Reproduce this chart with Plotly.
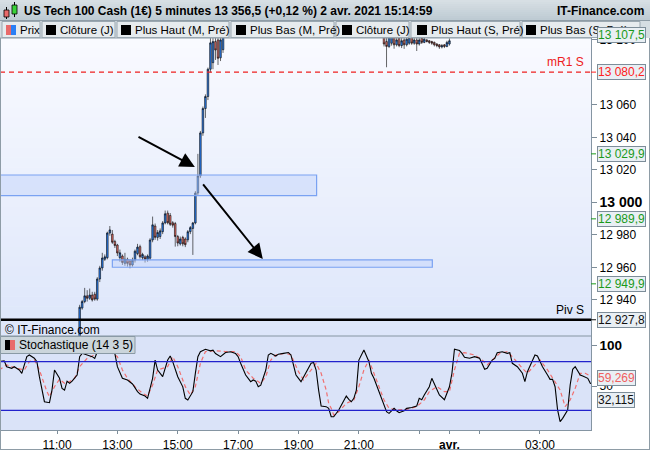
import plotly.graph_objects as go
import pandas as pd

# ---------------- candle data (5-minute bars) ----------------
seg1_start = "2021-03-31 11:45"
seg1_open = [12914, 12935, 12939, 12942.5, 12941, 12943, 12943.5, 12940.5, 12952.9, 12959.7,
             12965, 12966, 12981.2, 12980.5, 12976, 12973.8, 12966, 12967, 12962.5, 12965,
             12964, 12961.5, 12964.5, 12968.5, 12972.8, 12966, 12966.5, 12965, 12965.7, 12976.9,
             12985.5, 12978.5, 12979, 12982, 12987.4, 12993.4, 12992, 12987.5, 12987, 12979,
             12974.5, 12978.5, 12977.5, 12977, 12982, 12984, 12987.4, 13005.8, 13016.3, 13042.8,
             13057.8, 13065.2, 13082, 13086, 13099, 13100, 13089, 13094]
seg1_high = [12937, 12940, 12947.4, 12946, 12947, 12945, 12945, 12954, 12961, 12969,
             12968, 12982, 12985.5, 12983, 12977, 12974.5, 12971, 12968, 12969, 12966,
             12965, 12966, 12971, 12974.5, 12974, 12969, 12967.5, 12968, 12978, 12991.3,
             12987, 12983, 12984, 12988.5, 12995, 12995, 12993.5, 12988.5, 12988, 12980,
             12979, 12979.5, 12978.5, 12983, 12985.5, 12988, 13007, 13029.9, 13044, 13059,
             13066.5, 13083, 13104, 13104, 13103, 13104, 13104, 13106]
seg1_low = [12912, 12934, 12938, 12939, 12940, 12939, 12939.5, 12939.5, 12951, 12958,
            12964, 12965, 12979.5, 12974.5, 12972, 12967, 12963.5, 12961.5, 12961, 12960.5,
            12959.5, 12960.5, 12963, 12967.5, 12965.5, 12964.5, 12963, 12963.5, 12964.5, 12975.5,
            12977, 12976.5, 12977.5, 12980.5, 12986.5, 12986.5, 12985.5, 12984.5, 12972.8, 12973,
            12973.5, 12973, 12972.5, 12975.5, 12980.5, 12967.7, 12986.5, 13004.5, 13015, 13041,
            13052, 13063, 13080, 13082, 13087.7, 13084.6, 13087, 13092]
seg1_close = [12935.5, 12939, 12942.5, 12941, 12943, 12940, 12940.5, 12952.9, 12959.7, 12965.8,
              12966.5, 12981.2, 12983.1, 12975.5, 12973.5, 12968.9, 12969, 12963, 12965, 12962.5,
              12961.5, 12964.5, 12970, 12972.5, 12966.6, 12968, 12965, 12967, 12976.9, 12986.2,
              12978.5, 12981.5, 12982.5, 12987.4, 12993, 12987.5, 12986.5, 12986, 12979, 12975,
              12977.5, 12974.5, 12974, 12982, 12984.5, 12987.4, 13005.8, 13016.3, 13042.8, 13057.8,
              13065.2, 13082, 13098.2, 13099, 13093.8, 13088.7, 13100, 13104]

seg2_start = "2021-03-31 21:50"
seg2_open = [13104, 13099, 13096, 13098, 13102, 13097, 13101, 13096.5, 13100, 13097,
             13098, 13101.5, 13098, 13100, 13097.5, 13101, 13098.5, 13100, 13099.5, 13099,
             13098.5, 13097.5, 13097, 13095.7, 13097, 13096, 13097.5]
seg2_high = [13106, 13102, 13105, 13106, 13104, 13103, 13103, 13102, 13102, 13103,
             13104, 13103, 13102, 13101.5, 13102, 13103, 13102.5, 13100.5, 13100, 13099.5,
             13099, 13098, 13097.5, 13097.5, 13097.5, 13099.5, 13101]
seg2_low = [13096, 13083.2, 13095, 13096.5, 13094.6, 13096, 13095.5, 13095, 13094.5, 13096,
            13097, 13097, 13097, 13093.2, 13096.5, 13097.5, 13098, 13098.5, 13097.5, 13097,
            13096, 13095.5, 13094.5, 13094.8, 13095, 13095.5, 13096.5]
seg2_close = [13097.5, 13096, 13102, 13103, 13097, 13100, 13096.5, 13099.5, 13097, 13100.5,
              13101.5, 13098, 13100, 13097.5, 13100, 13098.5, 13100.5, 13099, 13098.5, 13098,
              13097, 13096.5, 13095.7, 13096.5, 13096, 13098.5, 13099.5]

# ---------------- stochastic (14 3 5) ----------------
stoch_k_time = ["09:05", "09:15", "09:20", "09:30", "09:35", "09:45", "09:50", "10:00", "10:05", "10:15",
                "10:20", "10:25", "10:35", "10:45", "10:50", "10:55", "11:05", "11:10", "11:15", "11:20",
                "11:25", "11:30", "11:40", "11:45", "11:50", "12:00", "12:10", "12:15", "12:20", "12:30",
                "12:35", "12:45", "12:55", "13:00", "13:10", "13:20", "13:30", "13:40", "13:45", "13:55",
                "14:00", "14:10", "14:15", "14:20", "14:30", "14:40", "14:45", "14:50", "15:00", "15:10",
                "15:15", "15:20", "15:30", "15:35", "15:40", "15:45", "15:55", "16:05", "16:10", "16:15",
                "16:25", "16:35", "16:45", "16:55", "17:00", "17:05", "17:10", "17:15", "17:25", "17:30",
                "17:35", "17:40", "17:45", "17:55", "18:00", "18:05", "18:15", "18:20", "18:30", "18:40",
                "18:45", "18:50", "18:55", "19:05", "19:10", "19:15", "19:25", "19:30", "19:35", "19:40",
                "19:45", "19:55", "20:00", "20:05", "20:10", "20:20", "20:35", "20:40", "20:45", "20:50",
                "20:55", "21:00", "21:10", "21:20", "21:25", "21:30", "21:35", "21:40", "21:50", "21:55",
                "22:00", "22:10", "22:15", "22:20", "22:30", "22:35", "22:45", "22:55", "23:00", "23:05",
                "23:10", "23:20", "23:25", "23:30", "23:35", "23:40", "23:50", "00:00", "00:05", "00:10",
                "00:20", "00:25", "00:30", "00:40", "00:50", "01:00", "01:10", "01:15", "01:25", "01:30",
                "01:35", "01:45", "01:55", "02:00", "02:05", "02:15", "02:25", "02:30", "02:35", "02:45",
                "02:50", "02:55", "03:05", "03:15", "03:20", "03:25", "03:30", "03:35", "03:40", "03:45",
                "03:55", "04:00", "04:05", "04:10", "04:20", "04:25", "04:35", "04:40", "04:45"]
stoch_k = [80, 81, 73.8, 71.8, 73.8, 69.7, 65.6, 86.2, 88.3, 84.2,
           80, 61.5, 30.6, 29.4, 45, 69.7, 59.5, 47, 45, 56,
           53.3, 56, 63.6, 86.2, 90.3, 88.3, 86.2, 84, 92.3, 95.3,
           94.5, 95.3, 90, 73.8, 59.5, 57.4, 52.5, 43, 40, 37.6,
           34.8, 59.5, 82, 69.7, 61.5, 82, 87, 80, 61.5, 49,
           34.8, 32.7, 43, 65.6, 86.2, 92.3, 95.3, 93.4, 94.3, 90,
           86.2, 91.3, 92.3, 90, 86.2, 78, 71.8, 63.6, 55.3, 57.4,
           56, 49, 51, 69.7, 88.3, 90.3, 87, 89.3, 90.3, 91.3,
           88.3, 73.8, 63.6, 55.3, 61.5, 67.6, 78, 79, 69.7, 45,
           25.3, 24.5, 22.4, 12.1, 12.1, 20.4, 37.6, 33.5, 30.6, 34.8,
           45, 82, 94.5, 80, 65.7, 59.5, 51.2, 43, 24.5, 18.3,
           16.2, 22.4, 19.5, 17.1, 19.5, 22.4, 23.5, 25.3, 34.8, 33,
           38.9, 49.1, 59.5, 52.5, 45, 38.9, 33, 49.1, 65.7, 95.3,
           93.7, 90.3, 85.4, 84.2, 86.2, 84.2, 70.6, 71.8, 82, 84,
           91.1, 92.3, 90.3, 91.1, 78, 73.8, 65.7, 55.3, 67.6, 83,
           88.3, 87, 73.8, 63.6, 58.2, 58.2, 49.1, 20.4, 6, 10.1,
           20.4, 51.2, 70.6, 73.8, 63.6, 62.3, 59.5, 53.3, 52.5]

stoch_d_time = ["09:05", "09:20", "09:40", "09:55", "10:05", "10:15", "10:25", "10:40", "10:45", "10:55",
                "11:05", "11:15", "11:25", "11:35", "11:45", "12:00", "12:10", "12:25", "12:45", "13:00",
                "13:10", "13:20", "13:35", "13:50", "14:00", "14:10", "14:20", "14:30", "14:40", "14:50",
                "15:00", "15:15", "15:25", "15:35", "15:45", "15:55", "16:15", "16:35", "16:55", "17:05",
                "17:15", "17:30", "17:45", "17:55", "18:05", "18:15", "18:35", "18:45", "19:00", "19:10",
                "19:25", "19:35", "19:45", "19:55", "20:00", "20:05", "20:10", "20:20", "20:35", "20:50",
                "21:00", "21:10", "21:20", "21:30", "21:40", "21:50", "22:00", "22:15", "22:35", "22:55",
                "23:10", "23:20", "23:35", "23:50", "00:00", "00:10", "00:20", "00:30", "00:50", "01:05",
                "01:15", "01:30", "01:40", "01:55", "02:05", "02:25", "02:35", "02:50", "03:00", "03:15",
                "03:25", "03:40", "03:50", "04:00", "04:10", "04:20", "04:30", "04:45"]
stoch_d = [69.8, 76, 71.8, 69.8, 80.1, 82.1, 69.8, 43, 36.9, 49.2,
           58.3, 53.3, 55.4, 59.5, 73.9, 84.2, 87.1, 92.4, 92.4, 86.2,
           69.8, 59.5, 49.2, 41, 37.7, 51.3, 69.8, 71.8, 73.9, 86.2,
           73.9, 49.2, 38.9, 49.2, 78, 92.4, 93.6, 92.4, 92.4, 86.2,
           69.8, 59.5, 53.3, 61.5, 82.1, 88.3, 90.4, 88.3, 67.7, 57.4,
           69.8, 78, 65.7, 45.1, 28.6, 22.5, 14.2, 18.3, 28.6, 32.7,
           49.2, 69.8, 82.1, 65.7, 49.2, 32.7, 22.5, 20.4, 21.2, 24.5,
           32.7, 43, 49.2, 43, 43, 69.8, 90.4, 91.2, 88.3, 82.1,
           76, 84.2, 90.4, 92.4, 86.2, 71.8, 65.7, 76, 82.1, 69.8,
           59.5, 45.1, 24.5, 32.7, 47.1, 65.7, 65.7, 60.7]

# ---------------- levels, badges, drawings ----------------
level_mr1 = 13080.2
level_piv = 12927.8
price_badge_values = [13080.2, 13029.9, 12989.9, 12949.9, 12927.8]
price_badge_colors = ["#ff2020", "#1a9a1a", "#1a9a1a", "#1a9a1a", "#111111"]
last_price_badge = 13107.5
stoch_badge_values = [59.269, 32.115]
stoch_badge_colors = ["#f06060", "#111111"]

zone1 = ["2021-03-31 09:00", "2021-03-31 19:36", 13004.2, 13016.9]
zone2 = ["2021-03-31 12:50", "2021-03-31 23:26", 12960.1, 12964.6]
arrow1 = ["2021-03-31 13:39", 13040.9, "2021-03-31 15:34", 13021.8]
arrow2 = ["2021-03-31 15:48", 13012.0, "2021-03-31 17:49", 12965.2]

price_tick_vals = [12940, 12960, 12980, 13000, 13020, 13040, 13060, 13100]
price_tick_text = ["12 940", "12 960", "12 980", '<span style="font-size:14px"><b>13 000</b></span>',
                   "13 020", "13 040", "13 060", "13 100"]
stoch_tick_vals = [50, 100]
stoch_tick_text = ["50", '<span style="font-size:13.5px"><b>100</b></span>']
time_tick_vals = ["2021-03-31 11:00", "2021-03-31 13:00", "2021-03-31 15:00", "2021-03-31 17:00",
                  "2021-03-31 19:00", "2021-03-31 21:00", "2021-03-31 23:00", "2021-04-01 00:00",
                  "2021-04-01 01:00", "2021-04-01 03:00"]
time_tick_text = ["11:00", "13:00", "15:00", "17:00", "19:00", "21:00", "", "<b>avr.</b>", "", "03:00"]

title_text = "US Tech 100 Cash (1€) 5 minutes 13 356,5 (+0,12 %) 2 avr. 2021 15:14:59"
buttons = ["Prix", "Clôture (J)", "Plus Haut (M, Pré)", "Plus Bas (M, Pré)",
           "Clôture (J)", "Plus Haut (S, Pré)", "Plus Bas (S, Pré)"]

# ---------------- helpers ----------------
def stoch_dt(hm):
    day = "2021-04-01" if int(hm[:2]) < 9 else "2021-03-31"
    return pd.Timestamp(day + " " + hm)

def fr(v, dec):
    s = f"{v:,.{dec}f}"
    return s.replace(",", " ").replace(".", ",")

W, H = 650, 450
ML, MR, MT, MB = 1, 59, 38, 20
PW, PH = W - ML - MR, H - MT - MB
def X(px):
    return (px - ML) / PW
def Y(py):
    return (H - MB - py) / PH
SPLIT = Y(336)

FONT = "Liberation Sans, Arial, sans-serif"

t1 = pd.date_range(seg1_start, periods=len(seg1_open), freq="5min")
t2 = pd.date_range(seg2_start, periods=len(seg2_open), freq="5min")

fig = go.Figure()
for t, o, h, l, c in [(t1, seg1_open, seg1_high, seg1_low, seg1_close),
                      (t2, seg2_open, seg2_high, seg2_low, seg2_close)]:
    fig.add_trace(go.Candlestick(
        x=t, open=o, high=h, low=l, close=c, xaxis="x", yaxis="y",
        increasing=dict(line=dict(color="#000000", width=0.6), fillcolor="#2a80f5"),
        decreasing=dict(line=dict(color="#000000", width=0.6), fillcolor="#e8706a"),
        whiskerwidth=0, showlegend=False, hoverinfo="skip"))

fig.add_trace(go.Scatter(x=[stoch_dt(s) for s in stoch_d_time], y=stoch_d, mode="lines",
                         line=dict(color="#f07070", width=1.2, dash="4px,3px"),
                         xaxis="x", yaxis="y2", showlegend=False, hoverinfo="skip"))
fig.add_trace(go.Scatter(x=[stoch_dt(s) for s in stoch_k_time], y=stoch_k, mode="lines",
                         line=dict(color="#000000", width=1.1),
                         xaxis="x", yaxis="y2", showlegend=False, hoverinfo="skip"))

shapes = []
# price panel gradient background
N = 30
top, bot = (249, 250, 255), (221, 230, 250)
for k in range(N):
    f = (k + 0.5) / N
    col = "rgb(%d,%d,%d)" % tuple(round(top[j] + (bot[j] - top[j]) * f) for j in range(3))
    y0 = 38 + 298 * k / N
    y1 = 38 + 298 * (k + 1) / N + 0.5
    shapes.append(dict(type="rect", xref="paper", yref="paper", x0=X(0), x1=X(591),
                       y0=Y(y0), y1=Y(min(y1, 336)), fillcolor=col, line=dict(width=0), layer="below"))
shapes.append(dict(type="rect", xref="paper", yref="paper", x0=X(0), x1=X(591), y0=Y(430), y1=Y(336),
                   fillcolor="#dae3f8", line=dict(width=0), layer="below"))
# title bar gradient
tb_top, tb_bot = (216, 224, 229), (189, 202, 210)
for k in range(10):
    f = (k + 0.5) / 10
    col = "rgb(%d,%d,%d)" % tuple(round(tb_top[j] + (tb_bot[j] - tb_top[j]) * f) for j in range(3))
    shapes.append(dict(type="rect", xref="paper", yref="paper", x0=X(0), x1=X(650),
                       y0=Y(2 * (k + 1) + 0.3), y1=Y(2 * k), fillcolor=col, line=dict(width=0)))
# legend row
shapes.append(dict(type="rect", xref="paper", yref="paper", x0=X(0), x1=X(650), y0=Y(38), y1=Y(20),
                   fillcolor="#d5dde2", line=dict(width=0)))
shapes.append(dict(type="line", xref="paper", yref="paper", x0=X(0), x1=X(650), y0=Y(20.5), y1=Y(20.5),
                   line=dict(color="#8e9ca6", width=1)))
shapes.append(dict(type="line", xref="paper", yref="paper", x0=X(0), x1=X(591), y0=Y(38), y1=Y(38),
                   line=dict(color="#8e9ca6", width=1)))
btn_x0 = [2, 42, 117, 231, 336, 411, 522]
btn_x1 = [40, 115, 229, 334, 409, 520, 640]
icon_x = [6, 46, 121, 236, 342, 417, 526]
annotations = []
for i, lab in enumerate(buttons):
    shapes.append(dict(type="rect", xref="paper", yref="paper", x0=X(btn_x0[i]), x1=X(btn_x1[i]),
                       y0=Y(37.5), y1=Y(21.5), fillcolor="#e6ebee", line=dict(color="#9aa7b0", width=1)))
    if i == 0:
        shapes.append(dict(type="rect", xref="paper", yref="paper", x0=X(icon_x[i]), x1=X(icon_x[i] + 5),
                           y0=Y(35), y1=Y(25), fillcolor="#e86a6a", line=dict(width=0)))
        shapes.append(dict(type="rect", xref="paper", yref="paper", x0=X(icon_x[i] + 5), x1=X(icon_x[i] + 10),
                           y0=Y(35), y1=Y(25), fillcolor="#2a7ff5", line=dict(width=0)))
    else:
        shapes.append(dict(type="rect", xref="paper", yref="paper", x0=X(icon_x[i]), x1=X(icon_x[i] + 10),
                           y0=Y(35), y1=Y(25), fillcolor="#000000", line=dict(width=0)))
    annotations.append(dict(x=X(icon_x[i] + 12), y=Y(30), xref="paper", yref="paper", text=lab,
                            showarrow=False, xanchor="left", yanchor="middle",
                            font=dict(size=11.5, color="#000000", family=FONT)))
# title icon (two little candles)
shapes += [
    dict(type="line", xref="paper", yref="paper", x0=X(6.5), x1=X(6.5), y0=Y(19), y1=Y(7), line=dict(color="#000", width=1)),
    dict(type="rect", xref="paper", yref="paper", x0=X(4), x1=X(9), y0=Y(17), y1=Y(10), fillcolor="#e86a6a", line=dict(color="#000", width=0.8)),
    dict(type="line", xref="paper", yref="paper", x0=X(14.5), x1=X(14.5), y0=Y(17), y1=Y(2), line=dict(color="#000", width=1)),
    dict(type="rect", xref="paper", yref="paper", x0=X(12), x1=X(17), y0=Y(14), y1=Y(5), fillcolor="#3ad23a", line=dict(color="#000", width=0.8)),
]
# zones
for z in (zone1, zone2):
    shapes.append(dict(type="rect", xref="x", yref="y", x0=z[0], x1=z[1], y0=z[2], y1=z[3],
                       fillcolor="rgba(190,208,250,0.45)", line=dict(color="#7aa2f2", width=1.2)))
# levels
shapes.append(dict(type="line", xref="paper", yref="y", x0=X(0), x1=X(591), y0=level_mr1, y1=level_mr1,
                   line=dict(color="#ee2020", width=1.3, dash="5px,4px")))
shapes.append(dict(type="line", xref="paper", yref="y", x0=X(0), x1=X(591), y0=level_piv, y1=level_piv,
                   line=dict(color="#000000", width=2.5)))
# stochastic bands
for lv in (80, 20):
    shapes.append(dict(type="line", xref="paper", yref="y2", x0=X(0), x1=X(591), y0=lv, y1=lv,
                       line=dict(color="#2222cc", width=1.2)))
# panel separators / frame
shapes.append(dict(type="line", xref="paper", yref="paper", x0=X(0), x1=X(591), y0=Y(336), y1=Y(336),
                   line=dict(color="#8595a2", width=1.2)))
shapes.append(dict(type="line", xref="paper", yref="paper", x0=X(0.5), x1=X(0.5), y0=Y(449), y1=Y(38),
                   line=dict(color="#8e9ca6", width=1)))
shapes.append(dict(type="line", xref="paper", yref="paper", x0=X(0), x1=X(650), y0=Y(449.5), y1=Y(449.5),
                   line=dict(color="#8e9ca6", width=1)))
shapes.append(dict(type="line", xref="paper", yref="paper", x0=X(649.5), x1=X(649.5), y0=Y(449), y1=Y(38),
                   line=dict(color="#8e9ca6", width=1)))
# stochastic label box
shapes.append(dict(type="rect", xref="paper", yref="paper", x0=X(0.5), x1=X(135), y0=Y(353.5), y1=Y(336.5),
                   fillcolor="#cbd5db", line=dict(color="#8a9aa5", width=1)))
shapes.append(dict(type="rect", xref="paper", yref="paper", x0=X(5), x1=X(10), y0=Y(350), y1=Y(340),
                   fillcolor="#000000", line=dict(width=0)))
shapes.append(dict(type="rect", xref="paper", yref="paper", x0=X(10), x1=X(15), y0=Y(350), y1=Y(340),
                   fillcolor="#e86a6a", line=dict(width=0)))
annotations.append(dict(x=X(17), y=Y(345), xref="paper", yref="paper", text="Stochastique (14 3 5)",
                        showarrow=False, xanchor="left", yanchor="middle",
                        font=dict(size=12, color="#000", family=FONT)))
# colored ticks next to badges
for v, c in zip(price_badge_values, price_badge_colors):
    shapes.append(dict(type="line", xref="paper", yref="y", x0=X(591), x1=X(596), y0=v, y1=v,
                       line=dict(color=c, width=1)))

# title texts
annotations.append(dict(x=X(22), y=Y(11), xref="paper", yref="paper", text="<b>" + title_text + "</b>",
                        showarrow=False, xanchor="left", yanchor="middle",
                        font=dict(size=12, color="#000", family=FONT)))
annotations.append(dict(x=X(646), y=Y(11), xref="paper", yref="paper", text="<b>IT-Finance.com</b>",
                        showarrow=False, xanchor="right", yanchor="middle",
                        font=dict(size=12, color="#000", family=FONT)))
annotations.append(dict(x=X(3), y=Y(330), xref="paper", yref="paper", text="© IT-Finance.com",
                        showarrow=False, xanchor="left", yanchor="middle",
                        font=dict(size=12, color="#000", family=FONT)))
annotations.append(dict(x=X(586), y=level_mr1, xref="paper", yref="y", text="mR1 S", yshift=1,
                        showarrow=False, xanchor="right", yanchor="bottom",
                        font=dict(size=12, color="#ee2020", family=FONT)))
annotations.append(dict(x=X(586), y=level_piv, xref="paper", yref="y", text="Piv S", yshift=1,
                        showarrow=False, xanchor="right", yanchor="bottom",
                        font=dict(size=12, color="#000", family=FONT)))

def badge(text, y, yref, color):
    return dict(x=X(597), y=y, xref="paper", yref=yref, text=text, showarrow=False,
                xanchor="left", yanchor="middle", font=dict(size=12, color=color, family=FONT),
                bgcolor="#e9eff4", bordercolor="#7d8d99", borderwidth=1, borderpad=0)

annotations.append(badge(fr(last_price_badge, 1), Y(35), "paper", "#1a9a1a"))
for v, c in zip(price_badge_values, price_badge_colors):
    annotations.append(badge(fr(v, 1), v, "y", c))
for v, c in zip(stoch_badge_values, stoch_badge_colors):
    annotations.append(badge(fr(v, 3), v, "y2", c))

for a in (arrow1, arrow2):
    annotations.append(dict(x=a[2], y=a[3], ax=a[0], ay=a[1], xref="x", yref="y", axref="x", ayref="y",
                            text="", showarrow=True, arrowhead=2, arrowsize=1.5, arrowwidth=2,
                            arrowcolor="#000000", standoff=0))

fig.update_layout(
    width=W, height=H, autosize=False,
    margin=dict(l=ML, r=MR, t=MT, b=MB, pad=0, autoexpand=False),
    paper_bgcolor="#ffffff", plot_bgcolor="rgba(0,0,0,0)",
    font=dict(family=FONT, size=12, color="#000000"),
    showlegend=False, boxgap=0.1,
    xaxis=dict(type="date", range=["2021-03-31 09:08:40", "2021-04-01 04:41:24"], anchor="y2",
               domain=[0, 1], rangeslider=dict(visible=False), showgrid=False, zeroline=False,
               tickvals=time_tick_vals, ticktext=time_tick_text, ticks="outside", ticklen=3,
               tickcolor="#7d8d99", showline=True, linecolor="#8595a2", linewidth=1.2,
               tickfont=dict(size=12, color="#000"), automargin=False),
    yaxis=dict(domain=[SPLIT, 1], range=[12917.8, 13101.2], side="right", anchor="x",
               showgrid=False, zeroline=False, tickvals=price_tick_vals, ticktext=price_tick_text,
               ticks="outside", ticklen=5, tickcolor="#7d8d99", showline=True, linecolor="#8595a2",
               linewidth=1.2, tickfont=dict(size=12, color="#000"), automargin=False),
    yaxis2=dict(domain=[0, SPLIT], range=[-4.3, 111.7], side="right", anchor="x",
                showgrid=False, zeroline=False, tickvals=stoch_tick_vals, ticktext=stoch_tick_text,
                ticks="outside", ticklen=5, tickcolor="#7d8d99", showline=True, linecolor="#8595a2",
                linewidth=1.2, tickfont=dict(size=12, color="#000"), automargin=False),
    shapes=shapes, annotations=annotations,
)

fig.write_html("out.html", config={"displayModeBar": False},
               post_script="document.body.style.margin='0';")
